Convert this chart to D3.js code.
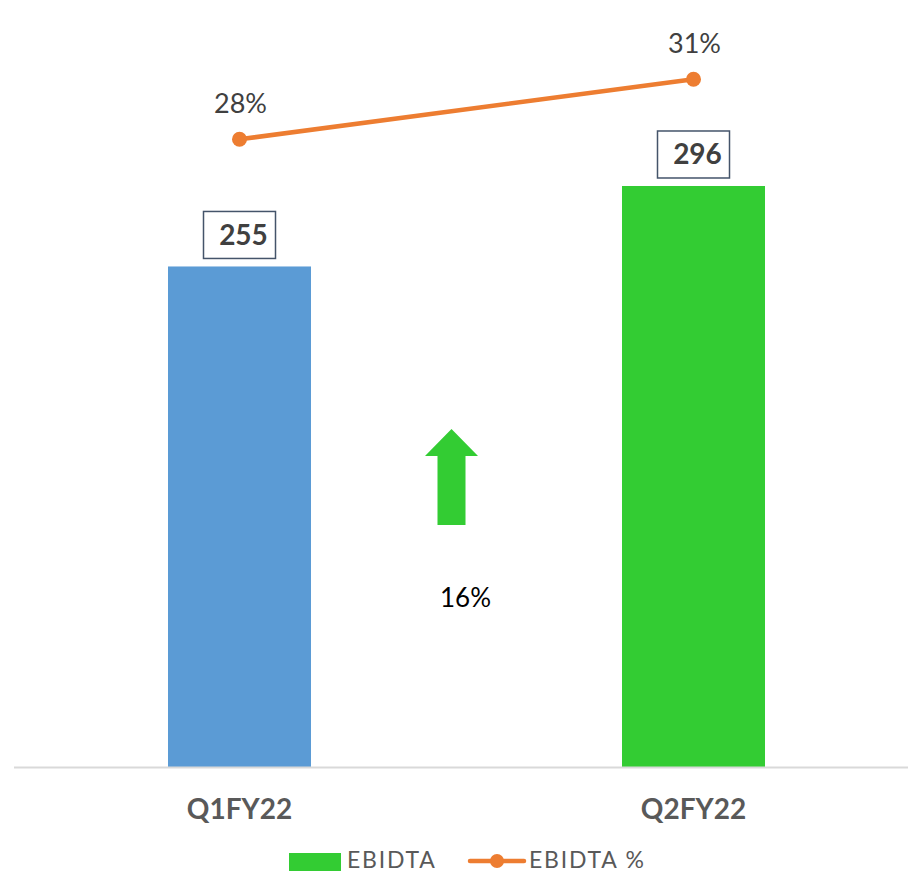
<!DOCTYPE html>
<html>
<head>
<meta charset="utf-8">
<script src="https://cdn.jsdelivr.net/npm/d3@7"></script>
<style>
	body { margin: 0; background: #fff; }
	text { font-family: Lato, "Open Sans", sans-serif; }
</style>
</head>
<body>
<script>
var categories = ['Q1FY22', 'Q2FY22'];
var ebidta = [255, 296];
var ebidtaPct = [28, 31];
var growthLabel = '16%';
var barColours = ['#5B9BD5', '#33CC33'];

var width = 908,
	height = 874;

var svg = d3.select('body').append('svg')
	.attr('width', width)
	.attr('height', height);

// scales
var x = d3.scalePoint()
	.domain(categories)
	.range([12.5, 920.5])
	.padding(0.5);

var barWidth = x.step() * 0.315;

var y = d3.scaleLinear()
	.domain([0, 350])
	.range([767, 80]);

// secondary axis for the % line
var y2 = d3.scaleLinear()
	.domain([20, 35])
	.range([299.3, -0.7]);

// bars
svg.selectAll('rect.bar')
	.data(ebidta).enter()
	.append('rect')
	.attr('class', 'bar')
	.attr('x', function(d, i) { return x(categories[i]) - barWidth / 2; })
	.attr('y', function(d) { return y(d); })
	.attr('width', barWidth)
	.attr('height', function(d) { return y(0) - y(d); })
	.attr('fill', function(d, i) { return barColours[i]; });

// baseline
svg.append('line')
	.attr('x1', 14)
	.attr('x2', width)
	.attr('y1', y(0) + 0.5)
	.attr('y2', y(0) + 0.5)
	.attr('stroke', '#D9D9D9')
	.attr('stroke-width', 2);

// boxed value labels
var boxW = 72, boxH = 47;
ebidta.forEach(function(d, i) {
	var cx = x(categories[i]);
	var top = y(d) - 8 - boxH;
	svg.append('rect')
		.attr('x', cx - boxW / 2)
		.attr('y', top)
		.attr('width', boxW)
		.attr('height', boxH)
		.attr('fill', 'white')
		.attr('stroke', '#44546A')
		.attr('stroke-width', 1.5);
	svg.append('text')
		.attr('x', cx + 4)
		.attr('y', top + boxH / 2 + 10)
		.attr('text-anchor', 'middle')
		.attr('font-size', 28)
		.attr('font-weight', 'bold')
		.attr('fill', '#404040')
		.text(d);
});

// EBIDTA % line
var line = d3.line()
	.x(function(d, i) { return x(categories[i]); })
	.y(function(d) { return y2(d); });

svg.append('path')
	.datum(ebidtaPct)
	.attr('d', line)
	.attr('fill', 'none')
	.attr('stroke', '#ED7D31')
	.attr('stroke-width', 4.5)
	.attr('stroke-linecap', 'round');

svg.selectAll('circle.pt')
	.data(ebidtaPct).enter()
	.append('circle')
	.attr('class', 'pt')
	.attr('cx', function(d, i) { return x(categories[i]); })
	.attr('cy', function(d) { return y2(d); })
	.attr('r', 7.5)
	.attr('fill', '#ED7D31');

svg.selectAll('text.pct')
	.data(ebidtaPct).enter()
	.append('text')
	.attr('class', 'pct')
	.attr('x', function(d, i) { return x(categories[i]) + 1; })
	.attr('y', function(d) { return y2(d) - 26; })
	.attr('text-anchor', 'middle')
	.attr('font-size', 27)
	.attr('fill', '#404040')
	.text(function(d) { return d + '%'; });

// category labels
svg.selectAll('text.cat')
	.data(categories).enter()
	.append('text')
	.attr('class', 'cat')
	.attr('x', function(d) { return x(d); })
	.attr('y', 819)
	.attr('text-anchor', 'middle')
	.attr('font-size', 28)
	.attr('font-weight', 'bold')
	.attr('fill', '#595959')
	.text(function(d) { return d; });

// growth arrow
var mid = (x(categories[0]) + x(categories[1])) / 2;
var ax = mid - 15;
svg.append('path')
	.attr('d', 'M' + ax + ',429 L' + (ax + 26.5) + ',456 L' + (ax + 14) + ',456 L' + (ax + 14) + ',525'
		+ ' L' + (ax - 14) + ',525 L' + (ax - 14) + ',456 L' + (ax - 26.5) + ',456 Z')
	.attr('fill', '#33CC33');

svg.append('text')
	.attr('x', mid - 1)
	.attr('y', 607)
	.attr('text-anchor', 'middle')
	.attr('font-size', 26)
	.attr('fill', '#000')
	.text(growthLabel);

// legend
var legend = svg.append('g');
legend.append('rect')
	.attr('x', 289)
	.attr('y', 853)
	.attr('width', 52)
	.attr('height', 18)
	.attr('fill', '#33CC33');
legend.append('text')
	.attr('x', 347)
	.attr('y', 868)
	.attr('font-size', 23)
	.attr('letter-spacing', 1.8)
	.attr('fill', '#595959')
	.text('EBIDTA');
legend.append('line')
	.attr('x1', 470)
	.attr('x2', 524)
	.attr('y1', 861)
	.attr('y2', 861)
	.attr('stroke', '#ED7D31')
	.attr('stroke-width', 4.5)
	.attr('stroke-linecap', 'round');
legend.append('circle')
	.attr('cx', 497)
	.attr('cy', 861)
	.attr('r', 7)
	.attr('fill', '#ED7D31');
legend.append('text')
	.attr('x', 529)
	.attr('y', 868)
	.attr('font-size', 23)
	.attr('letter-spacing', 1.8)
	.attr('fill', '#595959')
	.text('EBIDTA %');
</script>
</body>
</html>
